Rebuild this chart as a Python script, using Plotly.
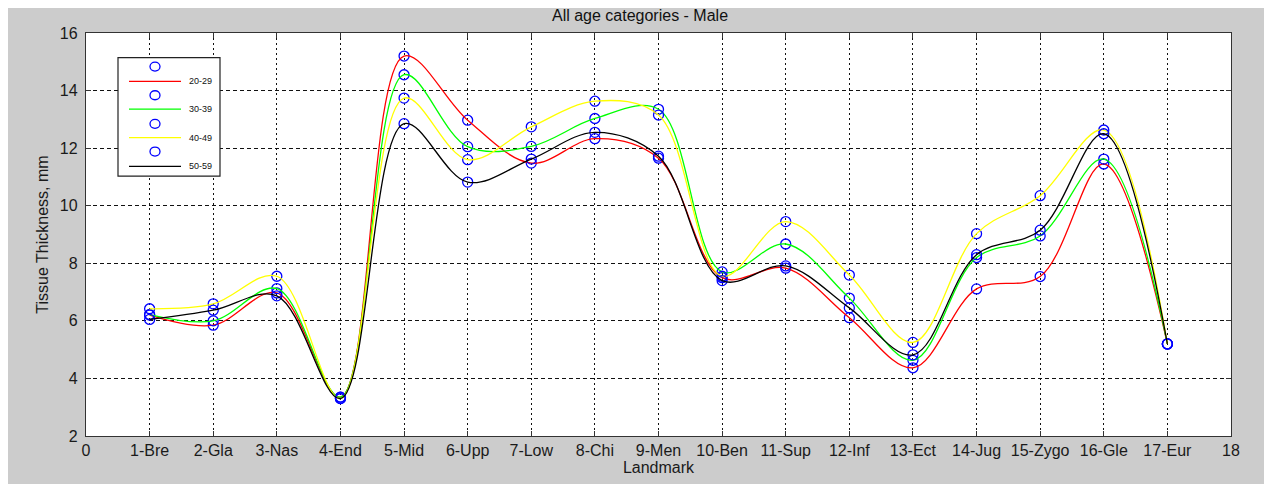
import plotly.graph_objects as go

landmarks = ['1-Bre', '2-Gla', '3-Nas', '4-End', '5-Mid', '6-Upp', '7-Low', '8-Chi', '9-Men',
             '10-Ben', '11-Sup', '12-Inf', '13-Ect', '14-Jug', '15-Zygo', '16-Gle', '17-Eur']
landmark_idx = list(range(1, 18))
x_ticks = list(range(0, 19))
x_ticktext = ['0'] + landmarks + ['18']

age_20_29 = [6.20, 5.85, 6.97, 3.35, 15.20, 12.97, 11.48, 12.33, 11.65, 7.50, 7.83, 6.11, 4.37, 7.11, 7.54, 11.45, 5.20]
age_30_39 = [6.22, 6.00, 7.12, 3.35, 14.55, 12.05, 12.06, 13.03, 13.35, 7.70, 8.67, 6.79, 4.63, 8.20, 8.95, 11.62, 5.20]
age_40_49 = [6.42, 6.59, 7.55, 3.30, 13.74, 11.60, 12.74, 13.63, 13.15, 7.55, 9.45, 7.59, 5.25, 9.03, 10.35, 12.63, 5.20]
age_50_59 = [6.05, 6.37, 6.87, 3.30, 12.85, 10.82, 11.62, 12.55, 11.72, 7.40, 7.91, 6.45, 4.82, 8.30, 9.15, 12.50, 5.20]

series_names = ['20-29', '30-39', '40-49', '50-59']
series_values = [age_20_29, age_30_39, age_40_49, age_50_59]
series_colors = ['#ff0000', '#00ff00', '#ffff00', '#000000']
marker_color = '#0000ff'

FONT = 'Liberation Sans, Arial, Helvetica, sans-serif'
FS = 16

fig = go.Figure()
for name, vals, col in zip(series_names, series_values, series_colors):
    fig.add_trace(go.Scatter(x=landmark_idx, y=vals, mode='markers', showlegend=False,
                             marker=dict(symbol='circle-open', size=10, color=marker_color,
                                         line=dict(width=1.3, color=marker_color)),
                             hoverinfo='skip'))
    fig.add_trace(go.Scatter(x=landmark_idx, y=vals, mode='lines', name=name, showlegend=False,
                             line=dict(color=col, width=1.3, shape='spline', smoothing=1.0)))

# Page body has an 8px margin; the figure is sized to fit the 1272x484 window.
OFF = 8
W, H = 1272 - OFF, 484 - OFF
# plot area in window pixels: x 86..1231, y 33..441
L, T = 86 - OFF, 33 - OFF
R, B = W - (1231 - OFF), H - (441 - OFF)
pw, ph = W - L - R, H - T - B

def px(xs):
    return (xs - OFF - L) / pw

def py(ys):
    return (H - B - (ys - OFF)) / ph

shapes = []
# grey figure panel
shapes.append(dict(type='rect', xref='paper', yref='paper', layer='below',
                   x0=px(7), x1=px(1266), y0=py(500), y1=py(7),
                   fillcolor='#cccccc', line=dict(color='#6e6e6e', width=1)))
# white axes area
shapes.append(dict(type='rect', xref='paper', yref='paper', layer='below',
                   x0=0, x1=1, y0=0, y1=1,
                   fillcolor='#ffffff', line=dict(width=0)))

annotations = []
# legend box
shapes.append(dict(type='rect', xref='paper', yref='paper', layer='above',
                   x0=px(118), x1=px(220), y0=py(178), y1=py(58),
                   fillcolor='#ffffff', line=dict(color='#222222', width=1.2)))
circle_rows = [67, 96, 125, 153]
line_rows = [82, 110, 139, 168]
for name, col, cy, ly in zip(series_names, series_colors, circle_rows, line_rows):
    shapes.append(dict(type='circle', xref='paper', yref='paper', layer='above',
                       xsizemode='pixel', ysizemode='pixel',
                       xanchor=px(155), yanchor=py(cy), x0=-5, x1=5, y0=-4.5, y1=4.5,
                       line=dict(color=marker_color, width=1.3)))
    shapes.append(dict(type='line', xref='paper', yref='paper', layer='above',
                       x0=px(129), x1=px(181), y0=py(ly), y1=py(ly),
                       line=dict(color=col, width=1.3)))
    annotations.append(dict(xref='paper', yref='paper', x=px(187), y=py(ly),
                            xanchor='left', yanchor='middle', showarrow=False,
                            text=name, font=dict(family=FONT, size=9, color='#111111')))

fig.update_layout(
    width=W, height=H,
    margin=dict(l=L, r=R, t=T, b=B, pad=0),
    paper_bgcolor='#ffffff', plot_bgcolor='#ffffff',
    font=dict(family=FONT, size=FS, color='#1a1a1a'),
    title=dict(text='All age categories - Male', x=px(658.5), xanchor='center',
               y=1 - (15 - OFF) / H, yanchor='middle', font=dict(family=FONT, size=FS, color='#111111')),
    shapes=shapes, annotations=annotations,
    showlegend=False,
)
fig.update_xaxes(range=[0, 18], tickmode='array', tickvals=x_ticks, ticktext=x_ticktext,
                 showgrid=True, gridcolor='#111111', gridwidth=1, griddash='2px,3px',
                 zeroline=False, showline=True, linecolor='#333333', linewidth=1.3, mirror='ticks',
                 ticks='inside', ticklen=5, tickcolor='#333333',
                 tickfont=dict(family=FONT, size=FS, color='#1a1a1a'),
                 title=dict(text='Landmark', standoff=1, font=dict(family=FONT, size=FS, color='#1a1a1a')))
fig.update_yaxes(range=[2, 16], dtick=2, tick0=2,
                 showgrid=True, gridcolor='#111111', gridwidth=1, griddash='4px,3px',
                 zeroline=False, showline=True, linecolor='#333333', linewidth=1.3, mirror='ticks',
                 ticks='inside', ticklen=5, tickcolor='#333333', ticklabelstandoff=4,
                 tickfont=dict(family=FONT, size=FS, color='#1a1a1a'),
                 title=dict(text='Tissue Thickness, mm', standoff=7, font=dict(family=FONT, size=FS, color='#1a1a1a')))

fig.write_html('out.html')
